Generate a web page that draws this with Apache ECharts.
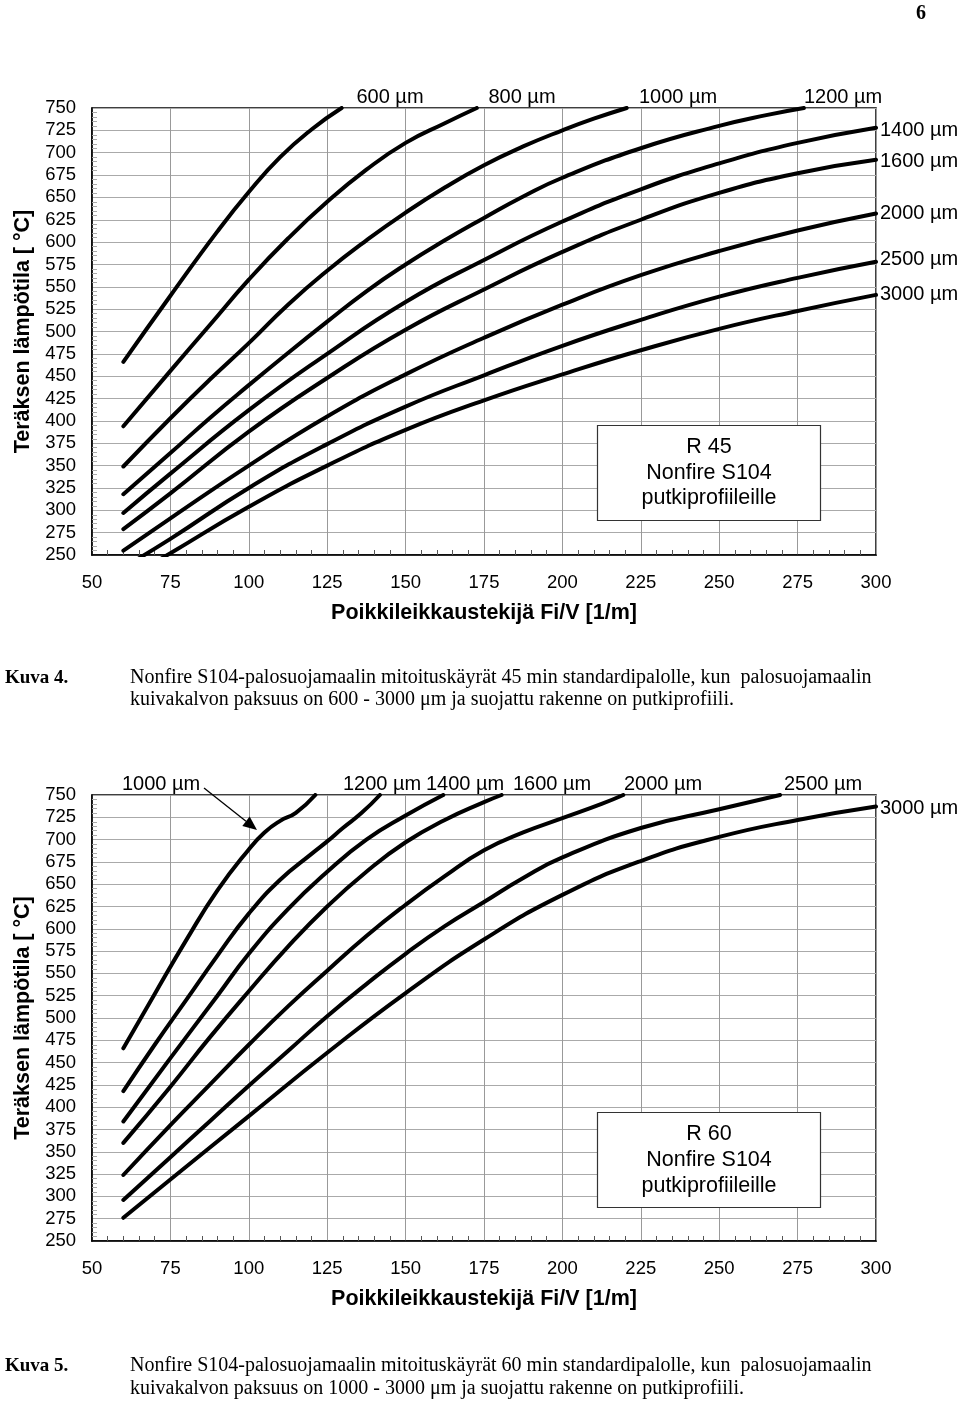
<!DOCTYPE html>
<html><head><meta charset="utf-8">
<script src="https://cdn.jsdelivr.net/npm/echarts@6/dist/echarts.min.js"></script>
<style>html,body{margin:0;padding:0;background:#fff}#c{width:960px;height:1402px}</style>
</head><body><div id="c"></div>
<script>
// ---- data ----
const xMin = 50, xMax = 300, xStep = 25;
const yMin = 250, yMax = 750, yStep = 25;

// R 45 chart (Kuva 4): [Fi/V, temperature]
const r45Names = ['600 µm','800 µm','1000 µm','1200 µm','1400 µm','1600 µm','2000 µm','2500 µm','3000 µm'];
const r45_600  = [[60,466],[75,540],[90,612],[100,656],[110,695],[120,726],[129.6,750]];
const r45_800  = [[60,394],[75,456],[87.5,507],[100,558],[112.5,604],[125,645],[137.5,681],[150,711],[162.5,733],[172.7,750]];
const r45_1000 = [[60,349],[75,403],[87.5,446],[100,487],[112.5,530],[125,568],[137.5,602],[150,633],[162.5,661],[175,686],[187.5,707],[200,725],[210,738],[220.5,750]];
const r45_1200 = [[60,318],[75,364],[87.5,403],[100,440],[112.5,476],[125,511],[137.5,545],[150,575],[162.5,602],[175,627],[187.5,651],[200,672],[225,705],[250,730],[265,742],[277,750]];
const r45_1400 = [[60,297],[75,341],[100,412],[125,475],[150,533],[175,580],[200,623],[225,659],[250,688],[275,711],[300,728]];
const r45_1600 = [[60,279],[75,319],[100,388],[125,448],[150,502],[175,547],[200,589],[225,625],[250,655],[275,677],[300,692]];
const r45_2000 = [[60,255],[75,291],[100,350],[125,405],[150,452],[175,493],[200,530],[225,563],[250,590],[275,613],[300,632]];
const r45_2500 = [[60,236],[75,268],[100,325],[125,374],[150,416],[175,451],[200,484],[225,513],[250,539],[275,560],[300,578]];
const r45_3000 = [[60,221],[75,252],[100,304],[125,350],[150,390],[175,423],[200,452],[225,479],[250,503],[275,523],[300,541]];

// R 60 chart (Kuva 5)
const r60Names = ['1000 µm','1200 µm','1400 µm','1600 µm','2000 µm','2500 µm','3000 µm'];
const r60_1000 = [[60,466],[70,527],[80,587],[90,643],[100,689],[105,708],[110,721],[115,730],[121.2,750]];
const r60_1200 = [[60,418],[70,470],[80,520],[90,570],[100,617],[110,655],[120,684],[125,698],[130,713],[136,730],[141.8,750]];
const r60_1400 = [[60,384],[75,455],[90,525],[100,572],[112.5,622],[125,664],[137.5,700],[150,727],[162,750]];
const r60_1600 = [[60,360],[75,423],[87.5,478],[100,530],[112.5,580],[125,625],[137.5,664],[150,697],[162.5,722],[175,742],[180.6,750]];
const r60_2000 = [[60,324],[75,380],[87.5,425],[100,470],[112.5,513],[125,553],[137.5,592],[150,627],[162.5,659],[175,688],[187.5,708],[200,724],[212.5,740],[219.4,750]];
const r60_2500 = [[60,296],[75,344],[87.5,384],[100,424],[112.5,463],[125,502],[137.5,538],[150,572],[162.5,603],[175,630],[187.5,657],[200,680],[225,713],[250,734],[269.4,750]];
const r60_3000 = [[60,276],[75,319],[100,390],[125,461],[150,528],[175,588],[200,638],[225,676],[250,703],[275,722],[300,737]];

const r45Series = [r45_600,r45_800,r45_1000,r45_1200,r45_1400,r45_1600,r45_2000,r45_2500,r45_3000];
const r60Series = [r60_1000,r60_1200,r60_1400,r60_1600,r60_2000,r60_2500,r60_3000];

const xName = 'Poikkileikkaustekijä Fi/V [1/m]';
const yName = 'Teräksen lämpötila [ °C]';
const box45 = ['R 45','Nonfire S104','putkiprofiileille'];
const box60 = ['R 60','Nonfire S104','putkiprofiileille'];
const cap4 = ['Kuva 4.', 'Nonfire S104-palosuojamaalin mitoituskäyrät 45 min standardipalolle, kun  palosuojamaalin', 'kuivakalvon paksuus on 600 - 3000 μm ja suojattu rakenne on putkiprofiili.'];
const cap5 = ['Kuva 5.', 'Nonfire S104-palosuojamaalin mitoituskäyrät 60 min standardipalolle, kun  palosuojamaalin', 'kuivakalvon paksuus on 1000 - 3000 μm ja suojattu rakenne on putkiprofiili.'];

// ---- chart ----
const SANS = '"Liberation Sans", Arial, sans-serif';
const SERIF = '"Liberation Serif", "Times New Roman", serif';
const chart = echarts.init(document.getElementById('c'), null, {renderer:'canvas'});

function xAxis(i){
  return {gridIndex:i, type:'value', min:xMin, max:xMax, interval:xStep,
    name:xName, nameLocation:'middle', nameGap:47,
    nameTextStyle:{fontFamily:SANS, fontSize:21.5, fontWeight:'bold', color:'#000'},
    axisLine:{lineStyle:{color:'#000', width:1.5}},
    axisTick:{show:false, inside:true},
    minorTick:{show:true, splitNumber:5, length:5, lineStyle:{color:'#555', width:1}},
    axisLabel:{fontFamily:SANS, fontSize:18.5, color:'#000', margin:18},
    splitLine:{show:true, lineStyle:{color:'#999', width:1}}};
}
function yAxis(i){
  return {gridIndex:i, type:'value', min:yMin, max:yMax, interval:yStep,
    name:yName, nameLocation:'middle', nameGap:56,
    nameTextStyle:{fontFamily:SANS, fontSize:21.5, fontWeight:'bold', color:'#000'},
    axisLine:{lineStyle:{color:'#000', width:1.5}},
    axisTick:{show:false, inside:true},
    minorTick:{show:true, splitNumber:5, length:5, lineStyle:{color:'#aaa', width:1}},
    axisLabel:{fontFamily:SANS, fontSize:18.5, color:'#000', margin:16},
    splitLine:{show:true, lineStyle:{color:'#aaa', width:1}}};
}
function line(data, gi){
  return {type:'line', data:data, xAxisIndex:gi, yAxisIndex:gi, smooth:0.5, symbol:'none',
    clip:true, silent:true, lineStyle:{color:'#000', width:4, cap:'round', join:'round'}};
}
function txt(x, y, s, font, align){
  return {type:'text', x:x, y:y, z:100, style:{text:s, font:font, fill:'#000', textAlign:align||'center', textVerticalAlign:'middle'}};
}
const F = '20px ' + SANS;
const FB = '21.5px ' + SANS;
const FC = '20px ' + SERIF;
const graphics = [
  txt(921, 14, '6', 'bold 20px ' + SERIF),
  // R45 labels
  txt(390, 97, r45Names[0], F), txt(522, 97, r45Names[1], F), txt(678, 97, r45Names[2], F), txt(843, 97, r45Names[3], F),
  txt(880, 130, r45Names[4], F, 'left'), txt(880, 161, r45Names[5], F, 'left'), txt(880, 213, r45Names[6], F, 'left'),
  txt(880, 259, r45Names[7], F, 'left'), txt(880, 294, r45Names[8], F, 'left'),
  {type:'rect', z:99, shape:{x:597.5, y:425.5, width:223, height:95}, style:{fill:'#fff', stroke:'#333', lineWidth:1.2}},
  txt(709, 447, box45[0], FB), txt(709, 473, box45[1], FB), txt(709, 498, box45[2], FB),
  // R60 labels
  txt(161, 784, r60Names[0], F), txt(382, 784, r60Names[1], F), txt(465, 784, r60Names[2], F), txt(552, 784, r60Names[3], F),
  txt(663, 784, r60Names[4], F), txt(823, 784, r60Names[5], F), txt(880, 808, r60Names[6], F, 'left'),
  {type:'line', z:100, shape:{x1:204, y1:788, x2:246, y2:821.3}, style:{stroke:'#000', lineWidth:1.3}},
  {type:'polygon', z:100, shape:{points:[[257,830],[242.3,826],[249.7,816.6]]}, style:{fill:'#000'}},
  {type:'rect', z:99, shape:{x:597.5, y:1112.5, width:223, height:95}, style:{fill:'#fff', stroke:'#333', lineWidth:1.2}},
  txt(709, 1134, box60[0], FB), txt(709, 1160, box60[1], FB), txt(709, 1186, box60[2], FB),
  // captions
  txt(5, 678, cap4[0], 'bold 19px ' + SERIF, 'left'),
  txt(130, 678, cap4[1], FC, 'left'),
  txt(130, 700, cap4[2], FC, 'left'),
  txt(5, 1366, cap5[0], 'bold 19px ' + SERIF, 'left'),
  txt(130, 1366, cap5[1], FC, 'left'),
  txt(130, 1389, cap5[2], FC, 'left')
];

const series = [];
r45Series.forEach(d => series.push(line(d, 0)));
r60Series.forEach(d => series.push(line(d, 1)));

chart.setOption({
  animation:false,
  backgroundColor:'#fff',
  grid:[
    {left:92, top:108, width:784, height:447, show:true, borderColor:'#000', borderWidth:1.5, backgroundColor:'transparent'},
    {left:92, top:795, width:784, height:446, show:true, borderColor:'#000', borderWidth:1.5, backgroundColor:'transparent'}
  ],
  xAxis:[xAxis(0), xAxis(1)],
  yAxis:[yAxis(0), yAxis(1)],
  series:series,
  graphic:graphics
});
</script></body></html>
